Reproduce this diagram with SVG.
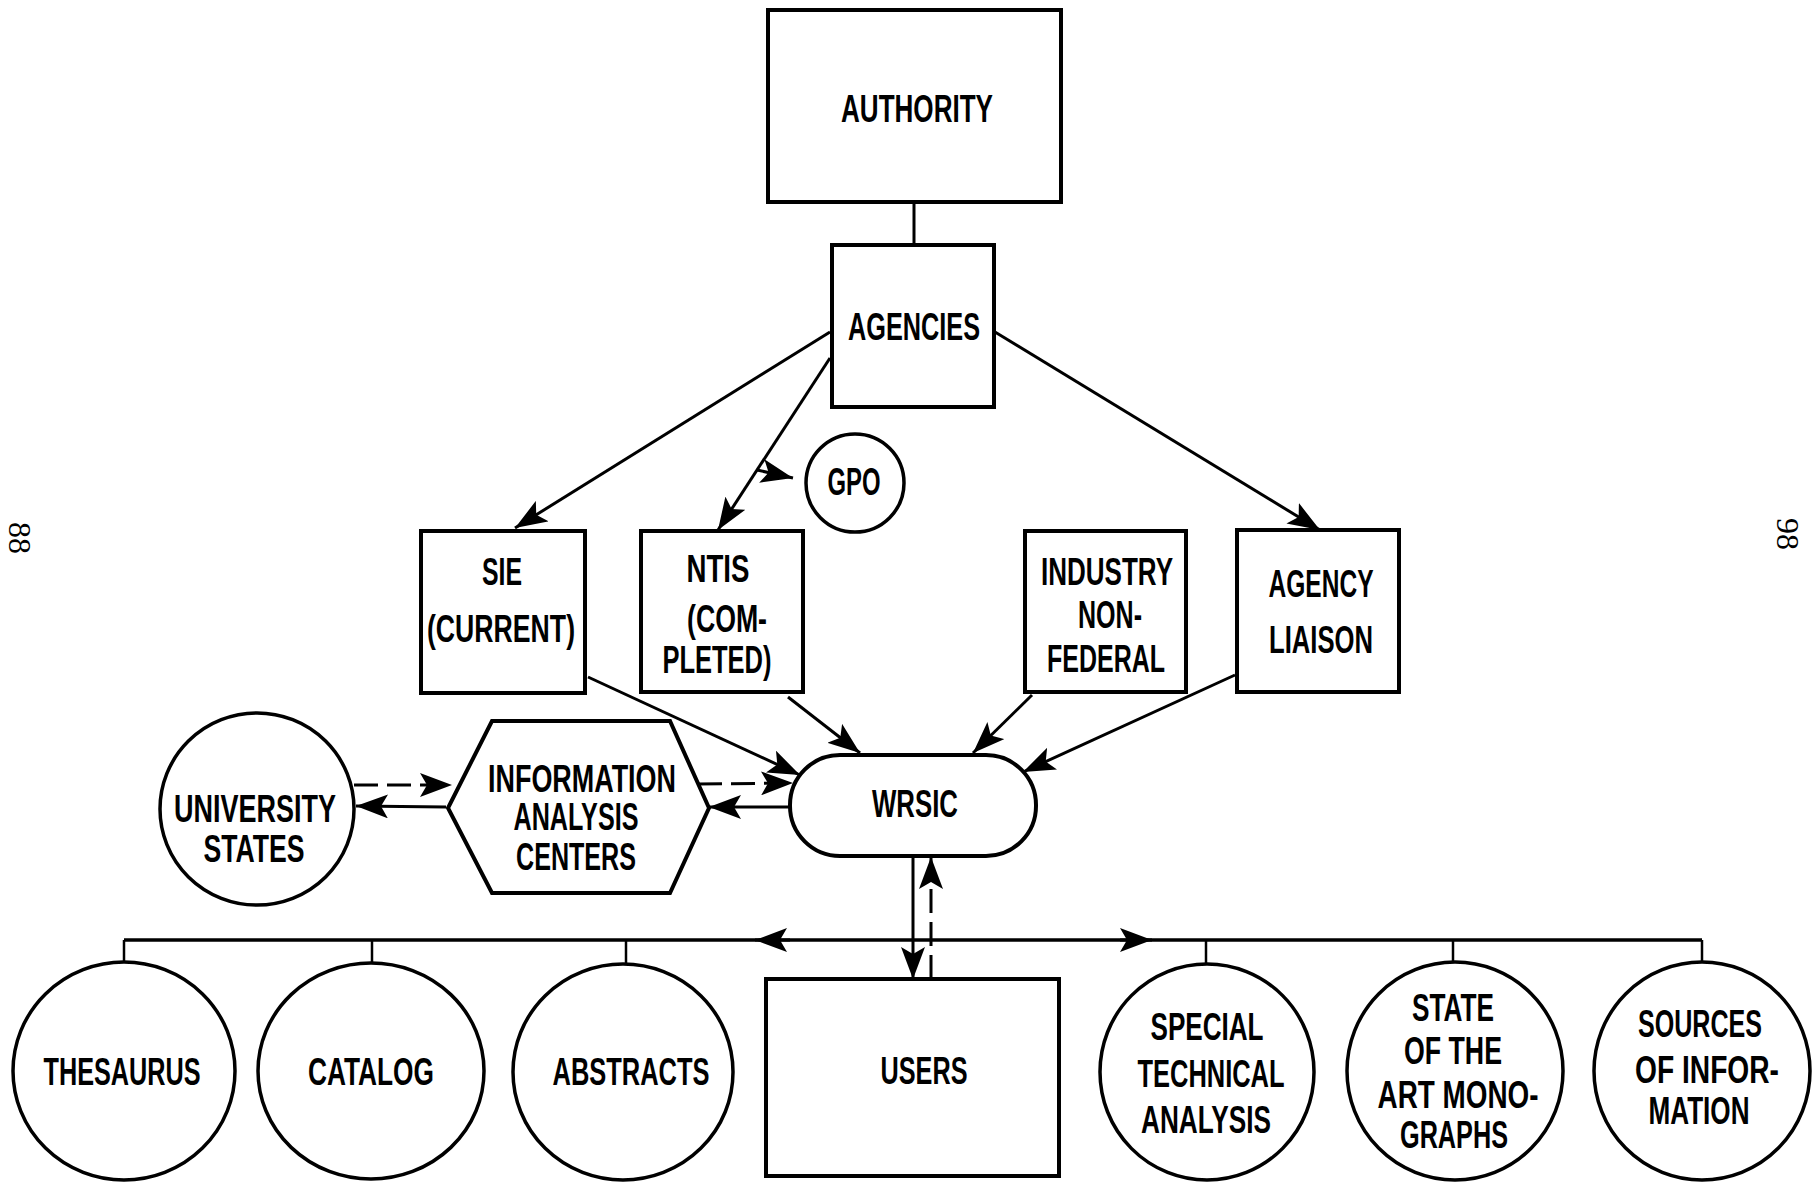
<svg xmlns="http://www.w3.org/2000/svg" width="1815" height="1182" viewBox="0 0 1815 1182">
<style>
.box{fill:#fff;stroke:#000;stroke-width:4}
.ov{fill:#fff;stroke:#000;stroke-width:3.5}
.t{font-family:"Liberation Sans",Arial,sans-serif;font-weight:bold;font-size:38px;text-anchor:middle;fill:#000}
.ln{fill:none;stroke:#000;stroke-width:3}
.dl{fill:none;stroke:#000;stroke-width:3;stroke-dasharray:24 9}
.thin{fill:none;stroke:#000;stroke-width:2.5}
.pg{font-family:"Liberation Serif","Times New Roman",serif;font-size:32px;fill:#000}
</style>
<defs>
<marker id="ah" viewBox="0 0 32 24" refX="32" refY="12" markerWidth="32" markerHeight="24" markerUnits="userSpaceOnUse" orient="auto">
<path d="M0,0 L32,12 L0,24 L7,12 z" fill="#000"/>
</marker>
</defs>
<rect width="1815" height="1182" fill="#fff"/>
<g id="connectors">
<line class="ln" x1="914" y1="202" x2="914" y2="245"/>
<line class="ln" x1="830" y1="332" x2="515" y2="528" marker-end="url(#ah)"/>
<line class="ln" x1="830" y1="358" x2="718" y2="530" marker-end="url(#ah)"/>
<line class="ln" x1="757" y1="470" x2="793" y2="478" marker-end="url(#ah)"/>
<line class="ln" x1="995" y1="332" x2="1320" y2="530" marker-end="url(#ah)"/>
<line class="ln" x1="588" y1="677" x2="800" y2="775" marker-end="url(#ah)"/>
<line class="ln" x1="788" y1="697" x2="860" y2="753" marker-end="url(#ah)"/>
<line class="ln" x1="1032" y1="695" x2="973" y2="753" marker-end="url(#ah)"/>
<line class="ln" x1="1235" y1="675" x2="1023" y2="772" marker-end="url(#ah)"/>
<line class="dl" x1="354" y1="785" x2="452" y2="785" marker-end="url(#ah)"/>
<line class="ln" x1="446" y1="807" x2="356" y2="806" marker-end="url(#ah)"/>
<line class="dl" x1="698" y1="784" x2="793" y2="783" marker-end="url(#ah)"/>
<line class="ln" x1="790" y1="807" x2="709" y2="807" marker-end="url(#ah)"/>
<line class="ln" x1="913" y1="856" x2="913" y2="979" marker-end="url(#ah)"/>
<line class="dl" x1="931" y1="979" x2="931" y2="857" marker-end="url(#ah)"/>
<line class="ln" x1="124" y1="940" x2="1702" y2="940" style="stroke-width:3.5"/>
<line class="ln" x1="790" y1="940" x2="755" y2="940" marker-end="url(#ah)"/>
<line class="ln" x1="1120" y1="940" x2="1152" y2="940" marker-end="url(#ah)"/>
<line class="thin" x1="124" y1="940" x2="124" y2="962"/>
<line class="thin" x1="372" y1="940" x2="372" y2="963"/>
<line class="thin" x1="626" y1="940" x2="626" y2="964"/>
<line class="thin" x1="1206" y1="940" x2="1206" y2="964"/>
<line class="thin" x1="1453" y1="940" x2="1453" y2="962"/>
<line class="thin" x1="1702" y1="940" x2="1702" y2="962"/>
</g>
<g id="authority">
<rect class="box" x="768" y="10" width="293" height="192"/>
<text class="t" x="917" y="122" textLength="152" lengthAdjust="spacingAndGlyphs">AUTHORITY</text>
</g>
<g id="agencies">
<rect class="box" x="832" y="245" width="162" height="162"/>
<text class="t" x="914" y="340" textLength="132" lengthAdjust="spacingAndGlyphs">AGENCIES</text>
</g>
<g id="gpo">
<circle class="ov" cx="855" cy="483" r="49"/>
<text class="t" x="854" y="495" textLength="53" lengthAdjust="spacingAndGlyphs">GPO</text>
</g>
<g id="sie">
<rect class="box" x="421" y="531" width="164" height="162"/>
<text class="t" x="502" y="585" textLength="40" lengthAdjust="spacingAndGlyphs">SIE</text>
<text class="t" x="501" y="642" textLength="148" lengthAdjust="spacingAndGlyphs">(CURRENT)</text>
</g>
<g id="ntis">
<rect class="box" x="641" y="531" width="162" height="161"/>
<text class="t" x="718" y="582" textLength="63" lengthAdjust="spacingAndGlyphs">NTIS</text>
<text class="t" x="727" y="632" textLength="80" lengthAdjust="spacingAndGlyphs">(COM-</text>
<text class="t" x="717" y="673" textLength="109" lengthAdjust="spacingAndGlyphs">PLETED)</text>
</g>
<g id="industry">
<rect class="box" x="1025" y="531" width="161" height="161"/>
<text class="t" x="1107" y="585" textLength="132" lengthAdjust="spacingAndGlyphs">INDUSTRY</text>
<text class="t" x="1110" y="628" textLength="64" lengthAdjust="spacingAndGlyphs">NON-</text>
<text class="t" x="1106" y="672" textLength="118" lengthAdjust="spacingAndGlyphs">FEDERAL</text>
</g>
<g id="agency-liaison">
<rect class="box" x="1237" y="530" width="162" height="162"/>
<text class="t" x="1321" y="597" textLength="105" lengthAdjust="spacingAndGlyphs">AGENCY</text>
<text class="t" x="1321" y="653" textLength="104" lengthAdjust="spacingAndGlyphs">LIAISON</text>
</g>
<g id="university">
<ellipse class="ov" cx="257" cy="809" rx="97" ry="96"/>
<text class="t" x="255" y="822" textLength="162" lengthAdjust="spacingAndGlyphs">UNIVERSITY</text>
<text class="t" x="254" y="862" textLength="101" lengthAdjust="spacingAndGlyphs">STATES</text>
</g>
<g id="iac">
<polygon class="box" points="492,721 670,721 709,808 670,893 492,893 448,808"/>
<text class="t" x="582" y="792" textLength="188" lengthAdjust="spacingAndGlyphs">INFORMATION</text>
<text class="t" x="576" y="830" textLength="125" lengthAdjust="spacingAndGlyphs">ANALYSIS</text>
<text class="t" x="576" y="870" textLength="120" lengthAdjust="spacingAndGlyphs">CENTERS</text>
</g>
<g id="wrsic">
<rect class="box" x="790" y="755" width="246" height="101" rx="50" ry="50"/>
<text class="t" x="915" y="817" textLength="86" lengthAdjust="spacingAndGlyphs">WRSIC</text>
</g>
<g id="thesaurus">
<ellipse class="ov" cx="124" cy="1071" rx="111" ry="109"/>
<text class="t" x="122" y="1085" textLength="157" lengthAdjust="spacingAndGlyphs">THESAURUS</text>
</g>
<g id="catalog">
<ellipse class="ov" cx="371" cy="1071" rx="113" ry="108"/>
<text class="t" x="371" y="1085" textLength="126" lengthAdjust="spacingAndGlyphs">CATALOG</text>
</g>
<g id="abstracts">
<ellipse class="ov" cx="623" cy="1072" rx="110" ry="108"/>
<text class="t" x="631" y="1085" textLength="157" lengthAdjust="spacingAndGlyphs">ABSTRACTS</text>
</g>
<g id="users">
<rect class="box" x="766" y="979" width="293" height="197"/>
<text class="t" x="924" y="1084" textLength="87" lengthAdjust="spacingAndGlyphs">USERS</text>
</g>
<g id="special">
<ellipse class="ov" cx="1207" cy="1072" rx="107" ry="108"/>
<text class="t" x="1207" y="1040" textLength="113" lengthAdjust="spacingAndGlyphs">SPECIAL</text>
<text class="t" x="1211" y="1087" textLength="147" lengthAdjust="spacingAndGlyphs">TECHNICAL</text>
<text class="t" x="1206" y="1133" textLength="130" lengthAdjust="spacingAndGlyphs">ANALYSIS</text>
</g>
<g id="state-of-art">
<ellipse class="ov" cx="1455" cy="1071" rx="108" ry="109"/>
<text class="t" x="1453" y="1021" textLength="82" lengthAdjust="spacingAndGlyphs">STATE</text>
<text class="t" x="1453" y="1064" textLength="98" lengthAdjust="spacingAndGlyphs">OF THE</text>
<text class="t" x="1458" y="1108" textLength="161" lengthAdjust="spacingAndGlyphs">ART MONO-</text>
<text class="t" x="1454" y="1148" textLength="108" lengthAdjust="spacingAndGlyphs">GRAPHS</text>
</g>
<g id="sources">
<ellipse class="ov" cx="1702" cy="1071" rx="108" ry="109"/>
<text class="t" x="1700" y="1037" textLength="124" lengthAdjust="spacingAndGlyphs">SOURCES</text>
<text class="t" x="1707" y="1083" textLength="144" lengthAdjust="spacingAndGlyphs">OF INFOR-</text>
<text class="t" x="1699" y="1124" textLength="101" lengthAdjust="spacingAndGlyphs">MATION</text>
</g>
<text class="pg" transform="translate(9,522) rotate(90)">88</text>
<text class="pg" transform="translate(1777,518) rotate(90)">98</text>
</svg>
